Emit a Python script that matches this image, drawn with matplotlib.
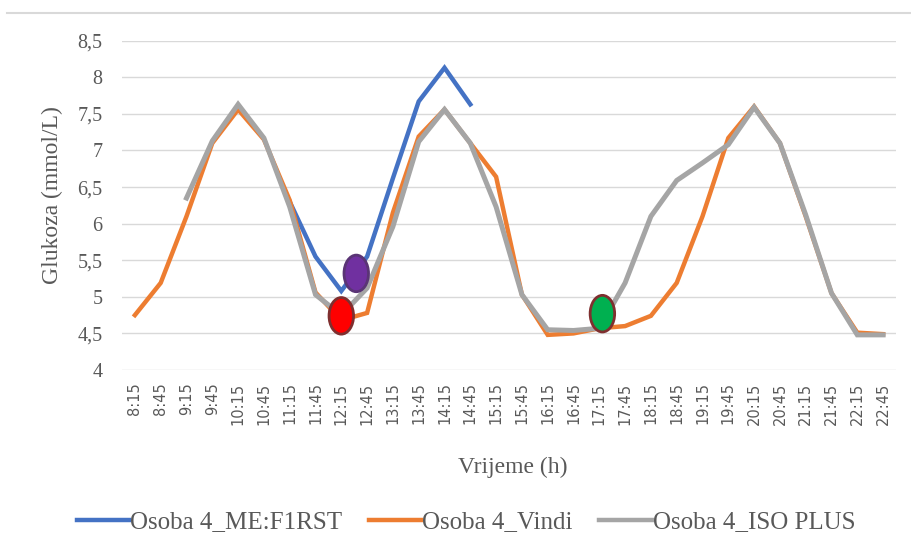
"""
Glukoza u krvi tijekom dana - Osoba 4, tri serije s oznakama (elipse)
"""

import numpy as np
from matplotlib import pyplot as plt
from matplotlib.patches import Ellipse
from matplotlib.lines import Line2D

# DATA ------------------------------------------------------------
nan = np.nan
times = ['8:15', '8:45', '9:15', '9:45', '10:15', '10:45', '11:15', '11:45',
         '12:15', '12:45', '13:15', '13:45', '14:15', '14:45', '15:15', '15:45',
         '16:15', '16:45', '17:15', '17:45', '18:15', '18:45', '19:15', '19:45',
         '20:15', '20:45', '21:15', '21:45', '22:15', '22:45']

me_first = [nan, nan, nan, nan, nan, nan, 6.30, 5.55, 5.08, 5.55,
            6.62, 7.67, 8.13, 7.63, nan, nan, nan, nan, nan, nan,
            nan, nan, nan, nan, nan, nan, nan, nan, nan, nan]

vindi = [4.75, 5.19, 6.10, 7.10, 7.56, 7.15, 6.32, 5.06, 4.68, 4.78,
         6.15, 7.19, 7.56, 7.10, 6.64, 5.03, 4.48, 4.50, 4.57, 4.60,
         4.74, 5.19, 6.10, 7.17, 7.60, 7.10, 6.10, 5.05, 4.51, 4.49]

iso_plus = [nan, nan, 6.35, 7.13, 7.63, 7.17, 6.23, 5.03, 4.75, 5.12,
            5.96, 7.12, 7.56, 7.10, 6.23, 5.03, 4.55, 4.54, 4.57, 5.19,
            6.10, 6.59, 6.83, 7.08, 7.59, 7.10, 6.12, 5.05, 4.48, 4.48]

labels = ['Osoba 4_ME:F1RST', 'Osoba 4_Vindi', 'Osoba 4_ISO PLUS']
yticks = [4, 4.5, 5, 5.5, 6, 6.5, 7, 7.5, 8, 8.5]
yticklabels = ['4', '4,5', '5', '5,5', '6', '6,5', '7', '7,5', '8', '8,5']

# markers drawn over the lines (x in category index, y in mmol/L)
mark_x = [8.0, 8.58, 18.12]
mark_y = [4.74, 5.32, 4.77]
mark_fill = ['#FF0000', '#7030A0', '#00B050']
mark_edge = ['#7F2F2F', '#5A3475', '#7F2F2F']
# -----------------------------------------------------------------

txtcol = '#595959'
serif = 'Liberation Serif'
colors = ['#4472C4', '#ED7D31', '#A5A5A5']

fig = plt.figure(figsize=(9.12, 5.56), dpi=100)
ax = fig.add_axes([122/912, 1-370/556, 774/912, (370-40.7)/556])

x = np.arange(len(times))
ax.plot(x, vindi, color=colors[1], lw=3.2, solid_joinstyle='miter', zorder=3)
ax.plot(x, iso_plus, color=colors[2], lw=3.6, solid_joinstyle='miter', zorder=4)
ax.plot(x, me_first, color=colors[0], lw=3.2, solid_joinstyle='miter', zorder=2)

for i in range(len(mark_x)):
    e = Ellipse((mark_x[i], mark_y[i]), width=0.95, height=0.5,
                facecolor=mark_fill[i], edgecolor=mark_edge[i], lw=2, zorder=6)
    ax.add_patch(e)

ax.set_xlim(-0.5, len(times)-0.5)
ax.set_ylim(4, 8.5)
ax.set_xticks(x)
ax.set_xticklabels(times, rotation=90, fontsize=10.5, color=txtcol,
                   family='DejaVu Sans', va='top', ha='center')
ax.set_yticks(yticks)
ax.set_yticklabels(yticklabels, fontsize=14.5, color=txtcol, family=serif)
ax.tick_params(axis='x', length=0, pad=9)
ax.tick_params(axis='y', length=0, pad=14)
for s in ax.spines.values():
    s.set_visible(False)
ax.yaxis.grid(True, color='#D9D9D9', lw=1)
ax.set_axisbelow(True)

fig.text(52/912, 1-195/556, 'Glukoza (mmol/L)', rotation=90, ha='center',
         va='center', fontsize=17, color=txtcol, family=serif)
fig.text(513/912, 1-467/556, 'Vrijeme (h)', ha='center', va='center',
         fontsize=17, color=txtcol, family=serif)

handles = [Line2D([], [], color=c, lw=3.2) for c in colors]
leg = fig.legend(handles, labels, loc='center', bbox_to_anchor=(466/912, 1-522/556),
                 ncol=3, frameon=False, handlelength=2.1, handletextpad=0.05,
                 columnspacing=1.05, prop={'family': serif, 'size': 18})
for t in leg.get_texts():
    t.set_color(txtcol)

# chart border at the top
fig.add_artist(Line2D([7/912, 1], [1-13/556, 1-13/556], color='#D9D9D9', lw=1.5))

plt.savefig('out.png', dpi=100)
